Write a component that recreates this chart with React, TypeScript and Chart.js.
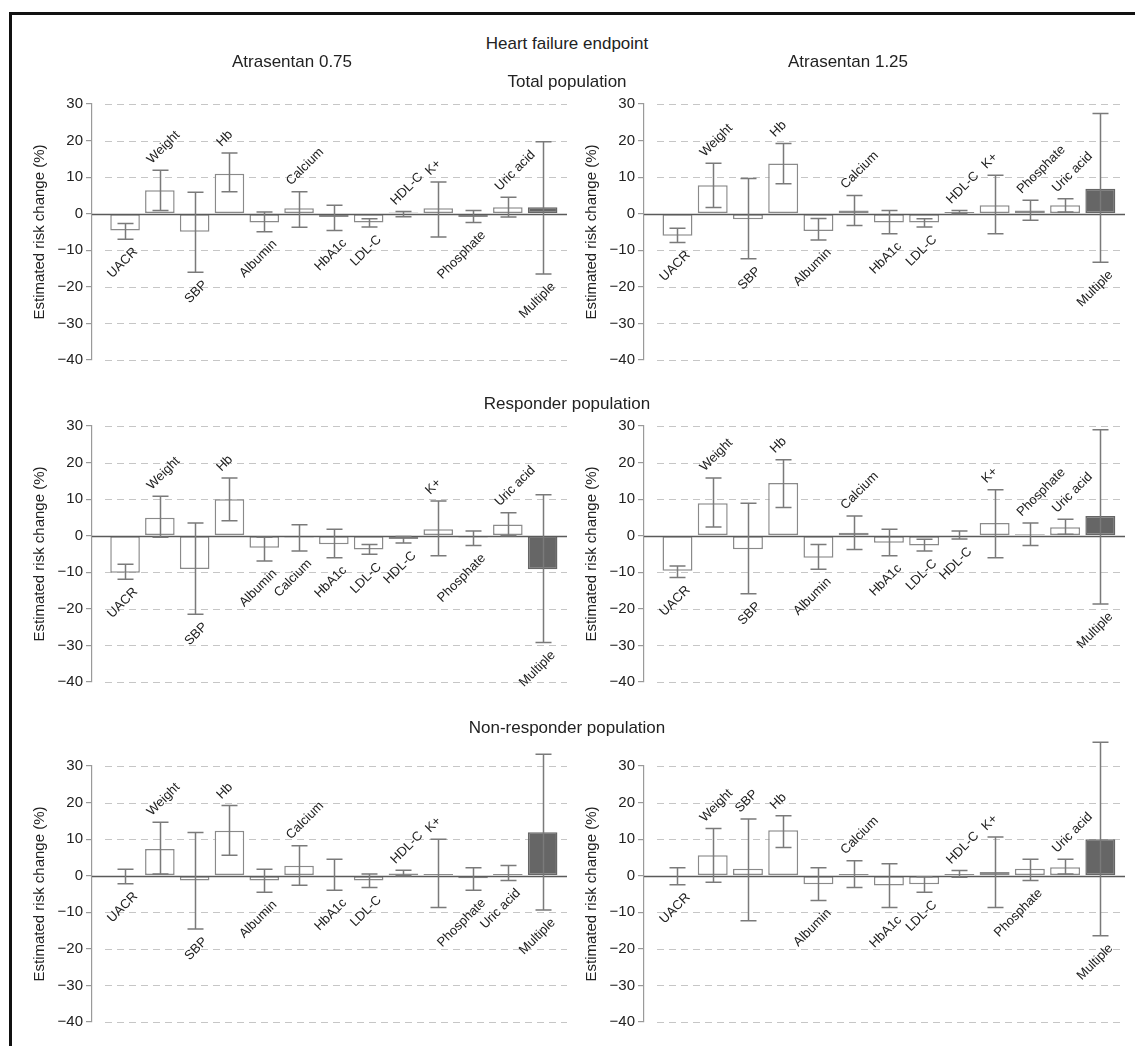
import React, { useEffect, useRef } from "react";
import { Chart, registerables } from "chart.js";

Chart.register(...registerables);

// ---------------- data ----------------
const categories = [
  "UACR", "Weight", "SBP", "Hb", "Albumin", "Calcium", "HbA1c",
  "LDL-C", "HDL-C", "K+", "Phosphate", "Uric acid", "Multiple",
];
const yTicks = [30, 20, 10, 0, -10, -20, -30, -40];

// Total population, Atrasentan 0.75
const total075Values = [-4.6, 6.4, -4.9, 10.9, -2.4, 1.5, -0.9, -2.4, 0.3, 1.5, -0.9, 1.8, 1.8];
const total075Upper = [-2.7, 11.9, 5.9, 16.6, 0.5, 6.0, 2.3, -1.4, 0.6, 8.7, 0.9, 4.5, 19.7];
const total075Lower = [-7.0, 0.9, -16.0, 6.0, -4.9, -3.7, -4.6, -3.6, -0.8, -6.4, -2.4, -0.9, -16.5];
const total075LabelSide = ["d", "u", "d", "u", "d", "u", "d", "d", "u", "u", "d", "u", "d"];

// Total population, Atrasentan 1.25
const total125Values = [-6.0, 7.8, -1.5, 13.7, -4.7, 0.9, -2.4, -2.4, 0.5, 2.3, 0.9, 2.3, 6.8];
const total125Upper = [-4.0, 13.8, 9.6, 19.2, -1.3, 5.0, 0.9, -1.4, 0.9, 10.5, 3.7, 4.1, 27.4];
const total125Lower = [-7.9, 1.7, -12.3, 8.2, -7.2, -3.2, -5.5, -3.6, 0.0, -5.5, -1.8, 0.5, -13.3];
const total125LabelSide = ["d", "u", "d", "u", "d", "u", "d", "d", "u", "u", "u", "u", "d"];

// Responder population, Atrasentan 0.75
const resp075Values = [-10.1, 4.9, -9.1, 10.0, -3.3, -0.5, -2.3, -3.8, -0.9, 1.8, -0.5, 3.1, -9.2];
const resp075Upper = [-7.8, 10.8, 3.5, 15.8, -0.4, 3.0, 1.8, -2.4, -0.2, 9.5, 1.3, 6.3, 11.2];
const resp075Lower = [-11.9, -0.4, -21.5, 4.1, -6.9, -4.2, -6.0, -5.1, -2.0, -5.5, -2.7, 0.0, -29.2];
const resp075LabelSide = ["d", "u", "d", "u", "d", "d", "d", "d", "d", "u", "d", "u", "d"];

// Responder population, Atrasentan 1.25
const resp125Values = [-9.6, 8.9, -3.7, 14.4, -6.0, 0.8, -1.9, -2.7, -0.2, 3.5, 0.4, 2.3, 5.4];
const resp125Upper = [-8.3, 15.8, 8.9, 20.8, -2.4, 5.4, 1.8, -1.0, 1.3, 12.6, 3.5, 4.5, 29.0];
const resp125Lower = [-11.4, 2.4, -15.9, 7.7, -9.2, -3.8, -5.5, -4.2, -0.9, -6.0, -2.7, 0.4, -18.7];
const resp125LabelSide = ["d", "u", "d", "u", "d", "u", "d", "d", "d", "u", "u", "u", "d"];

// Non-responder population, Atrasentan 0.75
const nonresp075Values = [-0.3, 7.3, -1.3, 12.3, -1.3, 2.7, 0.0, -1.3, 0.6, 0.5, -0.7, 0.5, 11.9];
const nonresp075Upper = [1.8, 14.6, 11.8, 19.2, 1.8, 8.2, 4.5, 0.5, 1.5, 10.0, 2.2, 2.8, 33.2];
const nonresp075Lower = [-2.2, 0.5, -14.6, 5.6, -4.5, -2.6, -4.0, -3.2, 0.0, -8.7, -4.0, -1.3, -9.4];
const nonresp075LabelSide = ["d", "u", "d", "u", "d", "u", "d", "d", "u", "u", "d", "d", "d"];

// Non-responder population, Atrasentan 1.25
const nonresp125Values = [-0.3, 5.6, 1.9, 12.4, -2.3, 0.5, -2.7, -2.3, 0.5, 1.0, 1.9, 2.3, 10.0];
const nonresp125Upper = [2.2, 12.9, 15.5, 16.4, 2.2, 4.1, 3.3, -0.3, 1.4, 10.6, 4.5, 4.5, 36.5];
const nonresp125Lower = [-2.5, -1.8, -12.3, 7.7, -6.8, -3.2, -8.7, -4.5, -0.4, -8.7, -1.3, 0.5, -16.4];
const nonresp125LabelSide = ["d", "u", "u", "u", "d", "u", "d", "d", "u", "u", "d", "u", "d"];

// ---------------- styling ----------------
const FONT = '"Liberation Sans", Arial, Helvetica, sans-serif';
const TEXT = "#222";

type PanelData = {
  values: number[];
  upper: number[];
  lower: number[];
  side: string[];
};

function Panel({ data, left, top, width, height }: { data: PanelData; left: number; top: number; width: number; height: number }) {
  const ref = useRef<HTMLCanvasElement>(null);

  useEffect(() => {
    const canvas = ref.current;
    if (!canvas) return;

    const decor = {
      id: "panelDecor",
      beforeDatasetsDraw(chart: any) {
        const { ctx, chartArea, scales } = chart;
        const y = scales.y;
        ctx.save();
        ctx.strokeStyle = "#c6c6c6";
        ctx.lineWidth = 1.2;
        ctx.setLineDash([7, 5]);
        for (const t of yTicks) {
          if (t === 0) continue;
          const py = Math.round(y.getPixelForValue(t)) + 0.5;
          ctx.beginPath();
          ctx.moveTo(chartArea.left + 13, py);
          ctx.lineTo(chartArea.right, py);
          ctx.stroke();
        }
        ctx.restore();
      },
      afterDatasetsDraw(chart: any) {
        const { ctx, chartArea, scales } = chart;
        const x = scales.x;
        const y = scales.y;
        ctx.save();
        // zero line
        const zy = Math.round(y.getPixelForValue(0)) + 0.5;
        ctx.strokeStyle = "#5a5a5a";
        ctx.lineWidth = 1.5;
        ctx.beginPath();
        ctx.moveTo(chartArea.left, zy);
        ctx.lineTo(chartArea.right, zy);
        ctx.stroke();

        // error bars
        ctx.strokeStyle = "#7a7a7a";
        ctx.lineWidth = 1.5;
        const cap = 8;
        categories.forEach((_, i) => {
          const cx = Math.round(x.getPixelForValue(i)) + 0.5;
          const yh = y.getPixelForValue(data.upper[i]);
          const yl = y.getPixelForValue(data.lower[i]);
          ctx.beginPath();
          ctx.moveTo(cx, yh);
          ctx.lineTo(cx, yl);
          ctx.moveTo(cx - cap, yh);
          ctx.lineTo(cx + cap, yh);
          ctx.moveTo(cx - cap, yl);
          ctx.lineTo(cx + cap, yl);
          ctx.stroke();
        });

        // rotated labels
        ctx.fillStyle = TEXT;
        ctx.font = `13px ${FONT}`;
        categories.forEach((name, i) => {
          const cx = x.getPixelForValue(i);
          ctx.save();
          if (data.side[i] === "u") {
            const py = y.getPixelForValue(data.upper[i]);
            ctx.translate(cx - 6, py - 4);
            ctx.rotate(-Math.PI / 4);
            ctx.textAlign = "left";
            ctx.textBaseline = "bottom";
          } else {
            const py = y.getPixelForValue(data.lower[i]);
            ctx.translate(cx + 6, py + 6);
            ctx.rotate(-Math.PI / 4);
            ctx.textAlign = "right";
            ctx.textBaseline = "top";
          }
          ctx.fillText(name, 0, 0);
          ctx.restore();
        });
        ctx.restore();
      },
    };

    const chart = new Chart(canvas, {
      type: "bar",
      data: {
        datasets: [
          {
            data: data.values.map((v, i) => ({ x: i, y: v })),
            backgroundColor: categories.map((c) => (c === "Multiple" ? "#666666" : "#ffffff")),
            borderColor: categories.map((c) => (c === "Multiple" ? "#666666" : "#8a8a8a")),
            borderWidth: 1.5,
            borderSkipped: false,
            categoryPercentage: 1,
            barPercentage: 0.85,
          } as any,
        ],
      },
      options: {
        responsive: false,
        maintainAspectRatio: false,
        animation: false,
        layout: { padding: { top: 45, bottom: 15, left: 0, right: 0 } },
        plugins: {
          legend: { display: false },
          tooltip: { enabled: false },
        },
        scales: {
          x: {
            type: "linear",
            min: -0.95,
            max: 12.7,
            display: false,
            offset: false,
          },
          y: {
            type: "linear",
            min: -40,
            max: 30,
            afterFit: (s: any) => {
              s.width = 80;
            },
            ticks: {
              stepSize: 10,
              color: TEXT,
              font: { size: 15, family: FONT },
              padding: 3,
              callback: (v: any) => (Number(v) < 0 ? "\u2212" + Math.abs(Number(v)) : String(v)),
            },
            grid: {
              display: true,
              drawOnChartArea: false,
              drawTicks: true,
              tickLength: 6,
              color: "#9a9a9a",
              lineWidth: 1.2,
            },
            border: { display: true, color: "#9a9a9a", width: 1.2 },
            title: {
              display: true,
              text: "Estimated risk change (%)",
              color: TEXT,
              font: { size: 15, family: FONT },
              padding: { top: 19, bottom: 0 },
            },
          } as any,
        },
      } as any,
      plugins: [decor],
    });
    return () => chart.destroy();
  }, [data]);

  return (
    <canvas
      ref={ref}
      width={width}
      height={height}
      style={{ position: "absolute", left, top, width, height }}
    />
  );
}

const panels: { data: PanelData; col: number; row: number }[] = [
  { data: { values: total075Values, upper: total075Upper, lower: total075Lower, side: total075LabelSide }, col: 0, row: 0 },
  { data: { values: total125Values, upper: total125Upper, lower: total125Lower, side: total125LabelSide }, col: 1, row: 0 },
  { data: { values: resp075Values, upper: resp075Upper, lower: resp075Lower, side: resp075LabelSide }, col: 0, row: 1 },
  { data: { values: resp125Values, upper: resp125Upper, lower: resp125Lower, side: resp125LabelSide }, col: 1, row: 1 },
  { data: { values: nonresp075Values, upper: nonresp075Upper, lower: nonresp075Lower, side: nonresp075LabelSide }, col: 0, row: 2 },
  { data: { values: nonresp125Values, upper: nonresp125Upper, lower: nonresp125Lower, side: nonresp125LabelSide }, col: 1, row: 2 },
];

const colGeom = [
  { left: 12, width: 555 },
  { left: 564, width: 561 },
];
const rowChartTop = [104, 426, 766];

function Title({ text, x, y }: { text: string; x: number; y: number }) {
  return (
    <div
      style={{
        position: "absolute",
        left: x,
        top: y,
        transform: "translate(-50%, -50%)",
        font: `17px ${FONT}`,
        color: TEXT,
        whiteSpace: "nowrap",
        zIndex: 2,
      }}
    >
      {text}
    </div>
  );
}

export default function App() {
  return (
    <div
      style={{
        position: "absolute",
        left: 0,
        top: 0,
        width: 1135,
        height: 1046,
        background: "#fff",
        overflow: "hidden",
      }}
    >
      <div
        style={{
          position: "absolute",
          left: 9,
          top: 12,
          width: 1125,
          height: 1040,
          borderLeft: "3px solid #111",
          borderTop: "3px solid #111",
        }}
      />
      {panels.map((p, i) => (
        <Panel
          key={i}
          data={p.data}
          left={colGeom[p.col].left}
          top={rowChartTop[p.row] - 45}
          width={colGeom[p.col].width}
          height={316}
        />
      ))}
      <Title text="Heart failure endpoint" x={567} y={44} />
      <Title text="Atrasentan 0.75" x={292} y={62} />
      <Title text="Atrasentan 1.25" x={848} y={62} />
      <Title text="Total population" x={567} y={82} />
      <Title text="Responder population" x={567} y={404} />
      <Title text="Non-responder population" x={567} y={728} />
    </div>
  );
}
